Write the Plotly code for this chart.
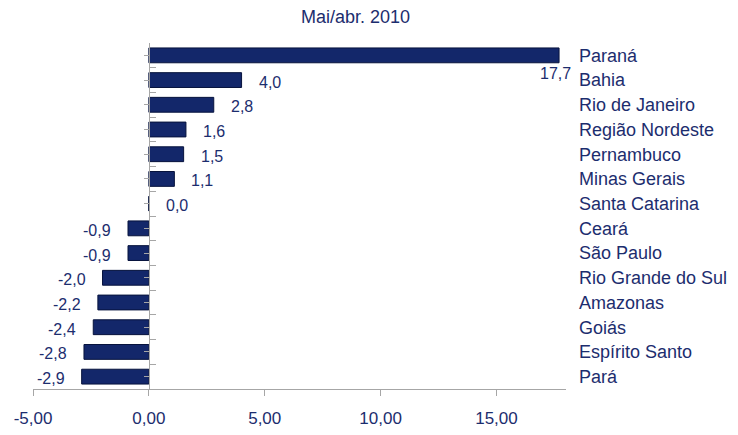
import plotly.graph_objects as go

# data (Mai/abr. 2010, %)
regions = ['Paraná', 'Bahia', 'Rio de Janeiro', 'Região Nordeste', 'Pernambuco',
           'Minas Gerais', 'Santa Catarina', 'Ceará', 'São Paulo', 'Rio Grande do Sul',
           'Amazonas', 'Goiás', 'Espírito Santo', 'Pará']
values = [17.7, 4.0, 2.8, 1.6, 1.5, 1.1, 0.0, -0.9, -0.9, -2.0, -2.2, -2.4, -2.8, -2.9]
x_ticks = [-5, 0, 5, 10, 15]

title_text = 'Variação percentual da produção industrial regional'
subtitle_text = 'Mai/abr. 2010'

NAVY = '#1c2d6e'
BAR = '#13276a'
EDGE = '#07133d'
GRAY = '#a6a6a6'
FONT = 'Arial, Liberation Sans, sans-serif'

x_min, x_max = -5, 18
n = len(regions)
zero_pos = (0 - x_min) / (x_max - x_min)


def br(v, nd):
    # brazilian number format with a plain hyphen for the minus sign
    return ('%.*f' % (nd, v)).replace('.', ',')


fig = go.Figure()

fig.add_trace(go.Bar(
    x=values,
    y=regions,
    orientation='h',
    marker=dict(color=BAR, line=dict(color=EDGE, width=1)),
    hoverinfo='x+y',
    showlegend=False,
))

# empty traces so the two tick-only axes on the zero line get drawn
fig.add_trace(go.Scatter(x=[], y=[], yaxis='y2', showlegend=False, hoverinfo='skip'))
fig.add_trace(go.Scatter(x=[], y=[], yaxis='y3', showlegend=False, hoverinfo='skip'))

# value labels
for reg, v in zip(regions, values):
    txt = br(v, 1)
    if v > x_max - 1:
        # no room on the right: put it just under the end of the bar
        fig.add_annotation(x=v, y=reg, text=txt, showarrow=False, xanchor='center',
                           yanchor='middle', xshift=-4, yshift=-18,
                           font=dict(size=16, color=NAVY, family=FONT))
    elif v >= 0:
        fig.add_annotation(x=v, y=reg, text=txt, showarrow=False, xanchor='left',
                           yanchor='middle', xshift=15, yshift=-2,
                           font=dict(size=16, color=NAVY, family=FONT))
    else:
        fig.add_annotation(x=v, y=reg, text=txt, showarrow=False, xanchor='right',
                           yanchor='middle', xshift=-15, yshift=-2,
                           font=dict(size=16, color=NAVY, family=FONT))

# title (cut off by the top of the picture) and subtitle
fig.add_annotation(x=0.589, y=1.135, xref='paper', yref='paper', text='<b>' + title_text + '</b>',
                   showarrow=False, xanchor='center', yanchor='middle',
                   font=dict(size=17, color=NAVY, family=FONT))
fig.add_annotation(x=0.606, y=1.075, xref='paper', yref='paper', text=subtitle_text,
                   showarrow=False, xanchor='center', yanchor='middle',
                   font=dict(size=18, color=NAVY, family=FONT))

# page body has an 8px margin, so the figure is 8px smaller than the window
fig.update_layout(
    width=730,
    height=427,
    margin=dict(l=25, r=172, t=35, b=46, autoexpand=False),
    paper_bgcolor='white',
    plot_bgcolor='white',
    bargap=0.4,
    font=dict(family=FONT, color=NAVY),
    xaxis=dict(
        range=[x_min, x_max],
        tickvals=x_ticks,
        ticktext=[br(t, 2) for t in x_ticks],
        ticks='outside',
        ticklen=6,
        tickcolor=GRAY,
        showline=True,
        linecolor=GRAY,
        showgrid=False,
        zeroline=False,
        automargin=False,
        tickfont=dict(size=17, color=NAVY),
        ticklabelstandoff=8,
    ),
    yaxis=dict(
        type='category',
        categoryorder='array',
        categoryarray=regions,
        range=[n - 0.5, -0.5],
        side='right',
        showline=False,
        showgrid=False,
        ticks='',
        automargin=False,
        tickfont=dict(size=18, color=NAVY),
        ticklabelstandoff=12,
    ),
    yaxis2=dict(
        overlaying='y',
        anchor='free',
        position=zero_pos,
        range=[n - 0.5, -0.5],
        tickvals=[i - 0.5 for i in range(n + 1)],
        ticks='inside',
        ticklen=6,
        tickcolor=GRAY,
        showline=True,
        linecolor=GRAY,
        showticklabels=False,
        showgrid=False,
        zeroline=False,
        automargin=False,
    ),
    yaxis3=dict(
        overlaying='y',
        anchor='free',
        position=zero_pos,
        range=[n - 0.5, -0.5],
        tickvals=list(range(n)),
        ticks='outside',
        ticklen=5,
        tickcolor=GRAY,
        showline=False,
        showticklabels=False,
        showgrid=False,
        zeroline=False,
        automargin=False,
    ),
    separators=',.',
)

fig.write_html('out.html')
